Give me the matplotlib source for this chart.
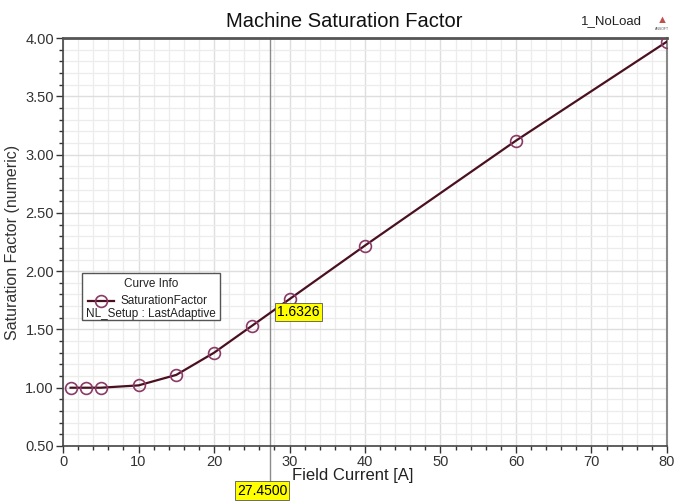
import matplotlib.pyplot as plt
from matplotlib.ticker import MultipleLocator
from matplotlib.patches import Rectangle
from matplotlib.lines import Line2D

# data
field_current = [1, 3, 5, 10, 15, 20, 25, 30, 40, 60, 80]
sat_factor = [1.00, 1.00, 1.00, 1.02, 1.11, 1.30, 1.53, 1.76, 2.22, 3.12, 3.97]
cursor_x = 27.45
cursor_y = 1.6326
x_ticks = [0, 10, 20, 30, 40, 50, 60, 70, 80]
y_ticks = [0.50, 1.00, 1.50, 2.00, 2.50, 3.00, 3.50, 4.00]

line_col = '#4a1020'
mark_col = '#8a3a66'

plt.rcParams['font.family'] = ['Liberation Sans', 'DejaVu Sans']

fig = plt.figure(figsize=(6.79, 5.01), dpi=100)
ax = fig.add_axes([0.0928, 0.1098, 0.8895, 0.8142])

ax.set_xlim(0, 80)
ax.set_ylim(0.5, 4.0)
ax.set_xticks(x_ticks)
ax.set_yticks(y_ticks)
ax.set_yticklabels([f"{v:.2f}" for v in y_ticks])
ax.xaxis.set_minor_locator(MultipleLocator(2))
ax.yaxis.set_minor_locator(MultipleLocator(0.1))

ax.grid(True, which='minor', color='#ececec', linewidth=0.9)
ax.grid(True, which='major', color='#dedede', linewidth=1.0)
ax.set_axisbelow(True)

ax.tick_params(which='major', direction='out', length=5, width=1, labelsize=10.5,
               colors='#333333', pad=1.5)
ax.tick_params(which='minor', direction='out', length=3, width=1, colors='#333333')
for s in ['left', 'bottom']:
    ax.spines[s].set_color('#444444')
    ax.spines[s].set_linewidth(1.2)
ax.spines['top'].set_color('#555555')
ax.spines['top'].set_linewidth(2)
ax.spines['right'].set_color('#888888')
ax.spines['right'].set_linewidth(1.5)

# cursor line, runs down to its value label
ax.axvline(cursor_x, color='#8c8c8c', linewidth=1.0, zorder=2)
ax.plot([cursor_x, cursor_x], [0.5, 0.17], color='#8c8c8c', linewidth=1.0, clip_on=False)

ax.plot(field_current, sat_factor, color=line_col, linewidth=1.6,
        marker='o', markersize=8.5, markerfacecolor='none',
        markeredgecolor=mark_col, markeredgewidth=1.2, zorder=3)

ax.set_xlabel("Field Current [A]", fontsize=12, color='#222222')
ax.xaxis.set_label_coords(0.48, -0.055)
ax.set_ylabel("Saturation Factor (numeric)", fontsize=11.5, color='#333333')
ax.yaxis.set_label_coords(-0.072, 0.5)

fig.text(0.507, 0.958, "Machine Saturation Factor", fontsize=14.5, ha='center', va='center',
         color='#111111')
fig.text(0.90, 0.958, "1_NoLoad", fontsize=9.5, ha='center', va='center', color='#222222')
fig.text(0.975, 0.960, "\u25b2", fontsize=8, ha='center', va='center', color='#c0504d')
fig.text(0.975, 0.942, "ANSOFT", fontsize=2.5, ha='center', va='center', color='#555555')

# value labels
ax.text(cursor_x + 0.9, 1.65, f"{cursor_y:.4f}", fontsize=10, va='center', ha='left',
        bbox=dict(boxstyle='square,pad=0.15', facecolor='#ffff00', edgecolor='#555555',
                  linewidth=0.6), zorder=5)
ax.text(26.35, 0.118, f"{cursor_x:.4f}", fontsize=10, ha='center', va='center',
        bbox=dict(boxstyle='square,pad=0.15', facecolor='#ffff00', edgecolor='#555555',
                  linewidth=0.6), clip_on=False)

# curve info box
ax.add_patch(Rectangle((2.5, 1.58), 18.3, 0.405, facecolor='white', edgecolor='#555555',
                       linewidth=1.0, zorder=4))
ax.text(11.65, 1.89, "Curve Info", fontsize=8.5, ha='center', va='center', zorder=5,
        color='#222222')
ax.add_line(Line2D([3.3, 6.8], [1.744, 1.744], color=line_col, linewidth=1.6, zorder=5))
ax.add_line(Line2D([5.0], [1.744], marker='o', markersize=8.5, markerfacecolor='none',
                   markeredgecolor=mark_col, markeredgewidth=1.2, zorder=5))
ax.text(7.6, 1.744, "SaturationFactor", fontsize=8.5, ha='left', va='center', zorder=5,
        color='#222222')
ax.text(3.0, 1.633, "NL_Setup : LastAdaptive", fontsize=8.5, ha='left', va='center', zorder=5,
        color='#222222')

fig.savefig("out.png", dpi=100)
